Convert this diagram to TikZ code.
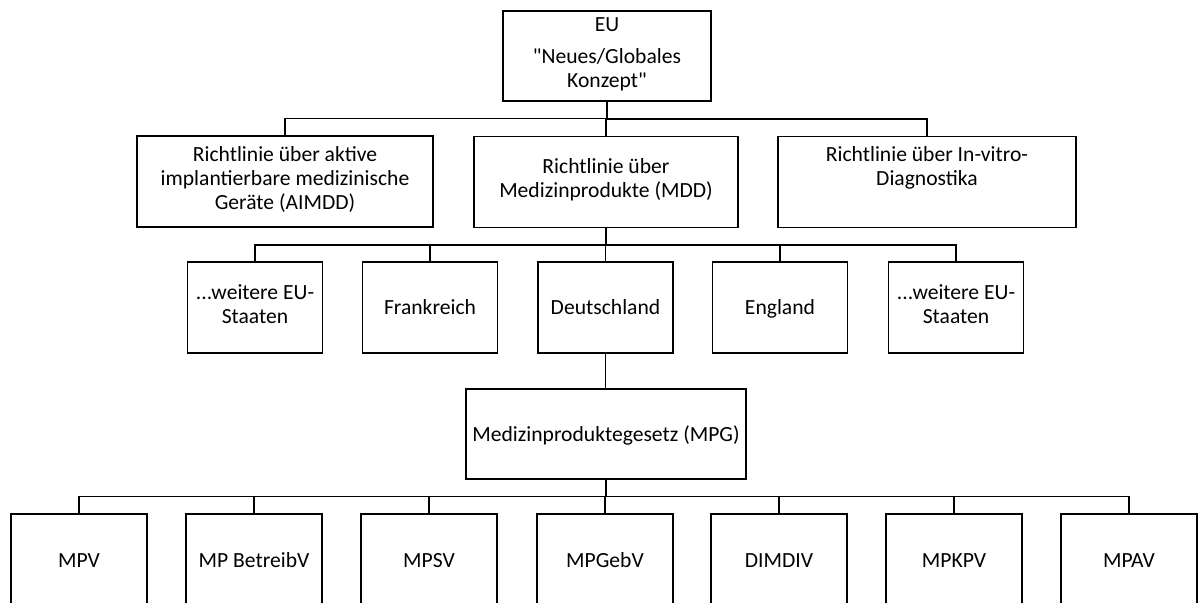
\documentclass[tikz,border=0pt]{standalone}
\usepackage{fontspec}
\newfontfamily\calfont{Carlito}
\usetikzlibrary{calc}

\tikzset{
  box/.style={draw, line width=0.9pt, align=center, inner sep=1pt,
    font=\calfont\fontsize{10.8}{12}\selectfont,
    execute at begin node=\rule{0pt}{11pt},
    execute at end node=\rule[-3.6pt]{0pt}{3.6pt}},
  multibox/.style={box, execute at begin node=\rule{0pt}{14pt}},
  bus/.style={line width=0.9pt,
    to path={(\tikztostart) |- ($(\tikztostart)!0.5!(\tikztotarget)$) -| (\tikztotarget)}}
}

\begin{document}
\begin{tikzpicture}[x=0.5pt, y=-0.5pt]

  % Fix the page size and cut off the lowest row
  \useasboundingbox (0,0) rectangle (1200,602);
  \clip (0,0) rectangle (1200,602);

  % Top: EU
  \node[multibox, minimum width=104pt, minimum height=45pt] (eu) at (607,56)
    {EU\\[4pt]"Neues/Globales\\Konzept"};

  % Directives
  \node[multibox, minimum width=148pt, minimum height=45.5pt] (aimdd) at (285,181.5)
    {Richtlinie über aktive\\implantierbare medizinische\\Geräte (AIMDD)};
  \node[multibox, minimum width=132pt, minimum height=45.5pt] (mdd) at (606,182)
    {Richtlinie über\\Medizinprodukte (MDD)};
  \node[multibox, minimum width=149pt, minimum height=45.5pt] (ivd) at (927,182)
    {Richtlinie über In-vitro-\\Diagnostika\\\strut};

  % Member states
  \node[multibox, minimum width=67.5pt, minimum height=45.5pt] (weitereA) at (255,307.5)
    {...weitere EU-\\Staaten};
  \node[box, minimum width=67.5pt, minimum height=45.5pt] (frankreich) at (430,307.5)
    {Frankreich};
  \node[box, minimum width=67.5pt, minimum height=45.5pt] (deutschland) at (605.5,307.5)
    {Deutschland};
  \node[box, minimum width=67.5pt, minimum height=45.5pt] (england) at (780,307.5)
    {England};
  \node[multibox, minimum width=67.5pt, minimum height=45.5pt] (weitereB) at (956,307.5)
    {...weitere EU-\\Staaten};

  % German law
  \node[box, minimum width=140pt, minimum height=45pt] (mpg) at (606,434)
    {Medizinproduktegesetz (MPG)};

  % Ordinances (bottom row, cut by the page edge)
  \node[box, minimum width=68pt, minimum height=46pt] (mpv) at (79,560) {MPV};
  \node[box, minimum width=68pt, minimum height=46pt] (betreibv) at (254,560) {MP BetreibV};
  \node[box, minimum width=68pt, minimum height=46pt] (mpsv) at (429,560) {MPSV};
  \node[box, minimum width=68pt, minimum height=46pt] (mpgebv) at (605,560) {MPGebV};
  \node[box, minimum width=68pt, minimum height=46pt] (dimdiv) at (779,560) {DIMDIV};
  \node[box, minimum width=68pt, minimum height=46pt] (mpkpv) at (954,560) {MPKPV};
  \node[box, minimum width=68pt, minimum height=46pt] (mpav) at (1129,560) {MPAV};

  % Connectors EU -> directives
  \draw (eu.south) edge[bus] (aimdd.north)
                   edge[bus] (mdd.north)
                   edge[bus] (ivd.north);

  % Connectors MDD -> member states
  \draw (mdd.south) edge[bus] (weitereA.north)
                    edge[bus] (frankreich.north)
                    edge[bus] (deutschland.north)
                    edge[bus] (england.north)
                    edge[bus] (weitereB.north);

  % Connector Deutschland -> MPG
  \draw[line width=0.9pt] (deutschland.south) -- (deutschland.south |- mpg.north);

  % Connectors MPG -> ordinances
  \draw (mpg.south) edge[bus] (mpv.north)
                    edge[bus] (betreibv.north)
                    edge[bus] (mpsv.north)
                    edge[bus] (mpgebv.north)
                    edge[bus] (dimdiv.north)
                    edge[bus] (mpkpv.north)
                    edge[bus] (mpav.north);

\end{tikzpicture}
\end{document}
